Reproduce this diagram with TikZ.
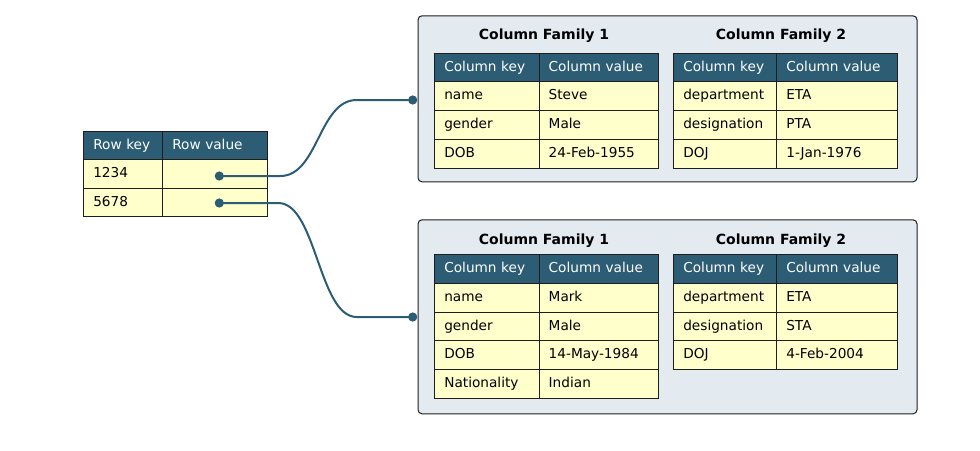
\documentclass[tikz,border=0pt]{standalone}
\usepackage{fontspec}
\setmainfont{DejaVu Sans}
\usetikzlibrary{calc}
\definecolor{hdr}{RGB}{44,93,117}
\definecolor{cellbg}{RGB}{255,255,204}
\definecolor{boxbg}{RGB}{228,235,240}
\definecolor{bord}{RGB}{30,30,30}
\tikzset{
  cellbase/.style={draw=bord, line width=0.75pt, inner xsep=7.1pt, inner ysep=0pt, align=left,
    text height=7.5pt, text depth=2pt, font=\fontsize{10.25}{12}\selectfont},
  hcell/.style={cellbase, fill=hdr, text=white},
  dcell/.style={cellbase, fill=cellbg, text=black},
  cfbox/.style={draw=bord, line width=0.75pt, fill=boxbg, rounded corners=3pt, inner sep=0pt},
  cftitle/.style={font=\bfseries\fontsize{10.5}{12}\selectfont, inner sep=0pt},
  port/.style={circle, fill=hdr, inner sep=0pt, minimum size=6.9pt},
  conn/.style={draw=hdr, line width=1.5pt}
}
\newcommand\mkcell[7]{%
  \pgfmathsetlengthmacro\cellw{(#5)*0.75pt}%
  \pgfmathsetlengthmacro\celltw{((#5)-19)*0.75pt}%
  \pgfmathsetlengthmacro\cellh{(#6)*0.75pt}%
  \node[#2, minimum width=\cellw, text width=\celltw, minimum height=\cellh, anchor=north west] (#1) at (#3,#4) {#7};}
\newcommand\trow[9]{%
  \mkcell{#1-#2k}{#7}{#3}{#6}{(#4)-(#3)}{28.7}{#8}%
  \mkcell{#1-#2v}{#7}{#4}{#6}{(#5)-(#4)}{28.7}{#9}}
\begin{document}
\begin{tikzpicture}[x=0.75pt,y=-0.75pt]
\useasboundingbox (0,0) rectangle (980,450);
% boxes
\node[cfbox, minimum width=499*0.75pt, minimum height=166*0.75pt, anchor=north west] (box1) at (417.5,15.3) {};
\node[cfbox, minimum width=499*0.75pt, minimum height=194*0.75pt, anchor=north west] (box2) at (417.5,219.3) {};
% left table
\mkcell{rk-h}{hcell}{83.3}{130.7}{79}{28.5}{Row key}
\mkcell{rv-h}{hcell}{162.3}{130.7}{104.4}{28.5}{Row value}
\mkcell{rk-1}{dcell}{83.3}{159.2}{79}{28.5}{1234}
\mkcell{rv-1}{dcell}{162.3}{159.2}{104.4}{28.5}{}
\mkcell{rk-2}{dcell}{83.3}{187.7}{79}{28.5}{5678}
\mkcell{rv-2}{dcell}{162.3}{187.7}{104.4}{28.5}{}
% box 1
\node[cftitle] (t11) at (544,36) {Column Family 1};
\node[cftitle] (t12) at (781,36) {Column Family 2};
\trow{a1}{h}{434.3}{538.7}{658.3}{52.7}{hcell}{Column key}{Column value}
\trow{a1}{1}{434.3}{538.7}{658.3}{81.4}{dcell}{name}{Steve}
\trow{a1}{2}{434.3}{538.7}{658.3}{110.1}{dcell}{gender}{Male}
\trow{a1}{3}{434.3}{538.7}{658.3}{138.8}{dcell}{DOB}{24-Feb-1955}
\trow{a2}{h}{673.3}{776.3}{896.7}{52.7}{hcell}{Column key}{Column value}
\trow{a2}{1}{673.3}{776.3}{896.7}{81.4}{dcell}{department}{ETA}
\trow{a2}{2}{673.3}{776.3}{896.7}{110.1}{dcell}{designation}{PTA}
\trow{a2}{3}{673.3}{776.3}{896.7}{138.8}{dcell}{DOJ}{1-Jan-1976}
% box 2
\node[cftitle] (t21) at (544,240.5) {Column Family 1};
\node[cftitle] (t22) at (781,240.5) {Column Family 2};
\trow{b1}{h}{434.3}{538.7}{658.3}{254.3}{hcell}{Column key}{Column value}
\trow{b1}{1}{434.3}{538.7}{658.3}{283}{dcell}{name}{Mark}
\trow{b1}{2}{434.3}{538.7}{658.3}{311.7}{dcell}{gender}{Male}
\trow{b1}{3}{434.3}{538.7}{658.3}{340.4}{dcell}{DOB}{14-May-1984}
\trow{b1}{4}{434.3}{538.7}{658.3}{369.1}{dcell}{Nationality}{Indian}
\trow{b2}{h}{673.3}{776.3}{896.7}{254.3}{hcell}{Column key}{Column value}
\trow{b2}{1}{673.3}{776.3}{896.7}{283}{dcell}{department}{ETA}
\trow{b2}{2}{673.3}{776.3}{896.7}{311.7}{dcell}{designation}{STA}
\trow{b2}{3}{673.3}{776.3}{896.7}{340.4}{dcell}{DOJ}{4-Feb-2004}
% ports
\node[port] (s1) at (219.3,176) {};
\node[port] (s2) at (219.3,203) {};
\node[port] (e1) at (412.7,100) {};
\node[port] (e2) at (412.7,317) {};
% connectors
\draw[conn] (s1.center) -- ++(61,0) .. controls +(38,0) and ($(e1.center)+(-94,0)$) .. ($(e1.center)+(-56,0)$) -- (e1.center);
\draw[conn] (s2.center) -- ++(59,0) .. controls +(38,0) and ($(e2.center)+(-94,0)$) .. ($(e2.center)+(-56,0)$) -- (e2.center);
\end{tikzpicture}
\end{document}
